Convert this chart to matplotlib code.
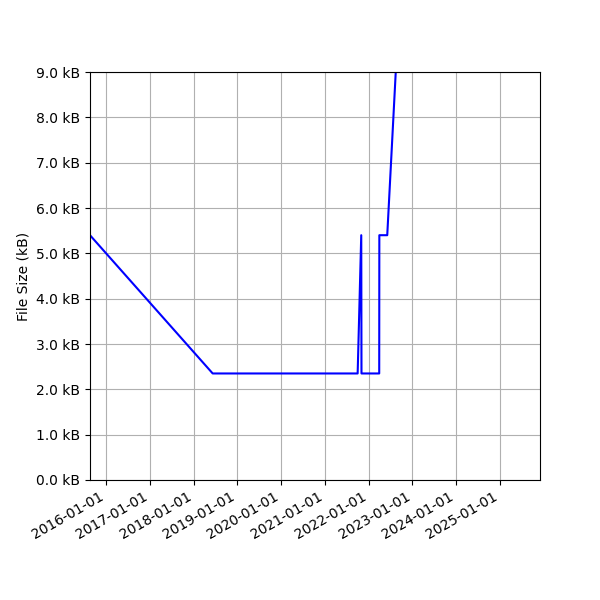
import numpy as np
import pandas as pd
import matplotlib
matplotlib.use("Agg")
import matplotlib.pyplot as plt
import matplotlib.dates as mdates
from matplotlib.ticker import FuncFormatter, MultipleLocator

# file size history (kB)
dates = pd.to_datetime([
    "2015-08-20", "2018-06-09", "2021-10-01", "2021-10-31",
    "2021-11-02", "2022-03-30", "2022-03-31", "2022-06-05", "2022-08-15",
])
sizes = [5.4, 2.35, 2.35, 5.4, 2.35, 2.35, 5.4, 5.4, 9.0]

fig, ax = plt.subplots(figsize=(6, 6), dpi=100)
ax.plot(dates, sizes, color="blue")

ax.set_xlim(pd.Timestamp("2015-08-20"), pd.Timestamp("2025-12-01"))
ax.set_ylim(0, 9.0)
ax.yaxis.set_major_locator(MultipleLocator(1.0))
ax.yaxis.set_major_formatter(FuncFormatter(lambda v, p: "%.1f kB" % v))
ax.xaxis.set_major_locator(mdates.YearLocator())
ax.xaxis.set_major_formatter(mdates.DateFormatter("%Y-%m-%d"))
ax.set_ylabel("File Size (kB)")
ax.grid(True)

fig.autofmt_xdate()
fig.subplots_adjust(left=0.15, right=0.9, bottom=0.2, top=0.88)
fig.savefig("out.png")
